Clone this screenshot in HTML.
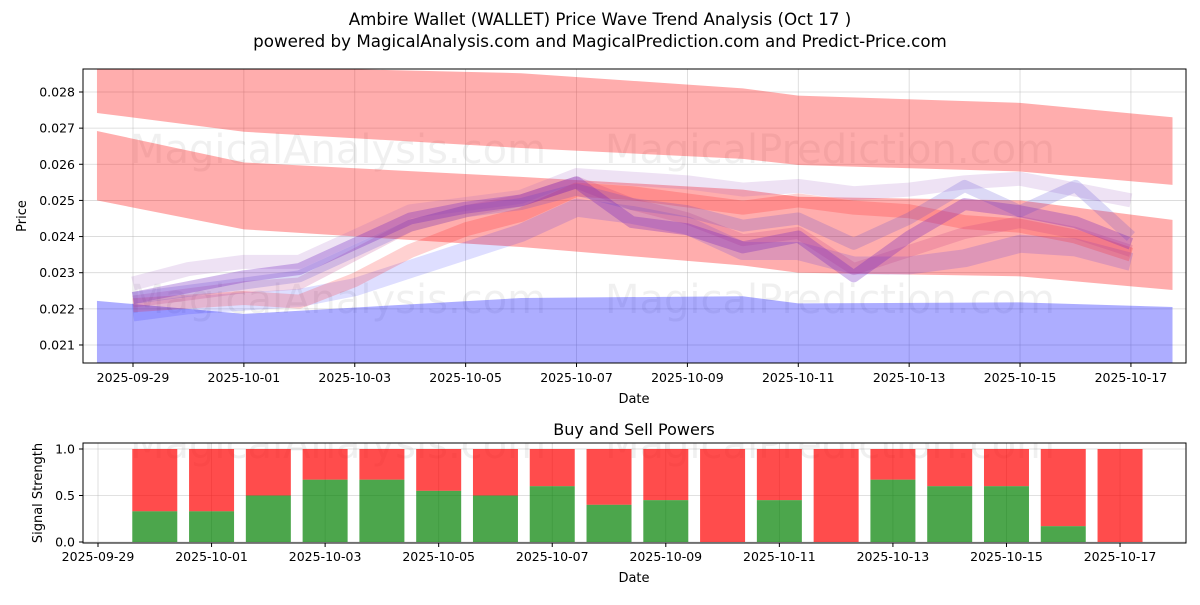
<!DOCTYPE html>
<html><head><meta charset="utf-8"><style>
body{margin:0;background:#fff;font-family:"Liberation Sans","DejaVu Sans",sans-serif;}
svg text{font-family:"DejaVu Sans","Liberation Sans",sans-serif;}
</style></head><body>
<svg id="c" width="1200" height="600" xmlns="http://www.w3.org/2000/svg">
<rect width="1200" height="600" fill="#fff"/>
<text x="600" y="25" text-anchor="middle" font-size="16.7">Ambire Wallet (WALLET) Price Wave Trend Analysis (Oct 17 )</text>
<text x="600" y="47" text-anchor="middle" font-size="16.7">powered by MagicalAnalysis.com and MagicalPrediction.com and Predict-Price.com</text>
<defs>
<clipPath id="cp1"><rect x="83" y="69" width="1103" height="294"/></clipPath>
<clipPath id="cp2"><rect x="83" y="443" width="1103" height="100"/></clipPath>
</defs>
<g id="topplot"></g>
<g id="botplot"></g>
</svg>
<script>
// ---- price chart data (day index from 2025-09-29) ----
const bandDays = [-0.65, 2, 7, 11, 12, 16, 18.75];
const redTopUpper = [0.02880, 0.02870, 0.02852, 0.02810, 0.02790, 0.02770, 0.02730];
const redTopLower = [0.02742, 0.02690, 0.02645, 0.02615, 0.02598, 0.02580, 0.02543];
const redMidUpper = [0.02692, 0.02605, 0.02565, 0.02530, 0.02510, 0.02500, 0.02446];
const redMidLower = [0.02500, 0.02420, 0.02371, 0.02320, 0.02300, 0.02290, 0.02252];
const blueUpper = [0.02222, 0.02186, 0.02230, 0.02235, 0.02215, 0.02218, 0.02205];
const blueLower = [0.02030, 0.02030, 0.02030, 0.02030, 0.02030, 0.02030, 0.02030];
const waveDays = [0,1,2,3,4,5,6,7,8,9,10,11,12,13,14,15,16,17,18];
const waveA = [0.0223,0.0226,0.0229,0.0231,0.0238,0.0245,0.0248,0.0250,0.0255,0.0244,0.0242,0.0237,0.0240,0.0229,0.0240,0.0249,0.0247,0.0244,0.0238];
const waveB = [0.0222,0.0224,0.0226,0.0227,0.0235,0.0243,0.0247,0.0250,0.0255,0.0249,0.0245,0.0239,0.0241,0.0231,0.0236,0.0241,0.0244,0.0241,0.0236];
const waveC = [0.0221,0.0222,0.0223,0.0222,0.0228,0.0236,0.0242,0.0246,0.0253,0.0252,0.0250,0.0248,0.0250,0.0248,0.0247,0.0244,0.0243,0.0240,0.0235];
const waveD = [0.0227,0.0231,0.0233,0.0233,0.0240,0.0247,0.0249,0.0251,0.0257,0.0256,0.0255,0.0253,0.0254,0.0252,0.0253,0.0255,0.0256,0.0253,0.0250];
const waveE = [0.0223,0.0225,0.0227,0.0229,0.0236,0.0243,0.0247,0.0249,0.0253,0.0249,0.0247,0.0243,0.0245,0.0238,0.0245,0.0254,0.0247,0.0254,0.0240];
const waveF = [0.0219,0.0221,0.0222,0.0223,0.0226,0.0231,0.0236,0.0241,0.0248,0.0246,0.0243,0.0236,0.0236,0.0232,0.0232,0.0234,0.0238,0.0237,0.0233];
const yTicks = [0.021,0.022,0.023,0.024,0.025,0.026,0.027,0.028];
const xTickLabels = ["2025-09-29","2025-10-01","2025-10-03","2025-10-05","2025-10-07","2025-10-09","2025-10-11","2025-10-13","2025-10-15","2025-10-17"];
const xTickDays = [0,2,4,6,8,10,12,14,16,18];
// ---- buy/sell powers ----
const barDays = [1,2,3,4,5,6,7,8,9,10,11,12,13,14,15,16,17,18];
const buyPower = [0.33,0.33,0.5,0.67,0.67,0.55,0.5,0.6,0.4,0.45,0,0.45,0,0.67,0.6,0.6,0.17,0];
const powTicks = [0,0.5,1.0];

const NS="http://www.w3.org/2000/svg";
function mk(tag,attrs,parent){const e=document.createElementNS(NS,tag);for(const k in attrs)e.setAttribute(k,attrs[k]);parent.appendChild(e);return e;}
const X=d=>133+d*55.44, Y=p=>92+(0.028-p)/0.001*36.14;
const X2=d=>98+d*56.78, Y2=v=>542-93*v;
const topG=document.getElementById('topplot'), botG=document.getElementById('botplot');

for(const t of yTicks){const l=mk('line',{x1:83,x2:1186,y1:Y(t),y2:Y(t),stroke:'#b0b0b0','stroke-width':0.8,'stroke-opacity':0.5},topG);


mk('line',{x1:79,x2:83,y1:Y(t),y2:Y(t),stroke:'#000'},topG);
const tx=mk('text',{x:75,y:Y(t)+4.5,'text-anchor':'end','font-size':12.5},topG);tx.textContent=t.toFixed(3);

}
xTickDays.forEach((d,i)=>{const l=mk('line',{x1:X(d),x2:X(d),y1:69,y2:363,stroke:'#b0b0b0','stroke-width':0.8,'stroke-opacity':0.5},topG);


mk('line',{x1:X(d),x2:X(d),y1:363,y2:367,stroke:'#000'},topG);
const tx=mk('text',{x:X(d),y:382,'text-anchor':'middle','font-size':12.5},topG);tx.textContent=xTickLabels[i];

});
[[130,163,'MagicalAnalysis.com'],[605,163,'MagicalPrediction.com'],[130,313,'MagicalAnalysis.com'],[605,313,'MagicalPrediction.com']].forEach(w=>{
const t=mk('text',{x:w[0],y:w[1],'font-size':40,fill:'#000','fill-opacity':0.06},topG);t.textContent=w[2];

});
const g=mk('g',{'clip-path':'url(#cp1)'},topG);
function band(up,lo,col,name){let d='M'+bandDays.map((x,i)=>X(x)+','+Y(up[i])).join('L');
d+='L'+bandDays.map((x,i)=>[X(x),Y(lo[i])]).reverse().map(p=>p.join(',')).join('L')+'Z';
const p=mk('path',{d:d,fill:col,'fill-opacity':0.32},g);

}
band(redTopUpper,redTopLower,'#f00','upper-red-band');
band(redMidUpper,redMidLower,'#f00','middle-red-band');
band(blueUpper,blueLower,'#00f','lower-blue-band');
const waves=[[waveF,'#00f',0.13,18],[waveD,'#a060c0',0.18,14],[waveC,'#f00',0.18,14],[waveB,'#c03080',0.2,12],[waveE,'#5040d0',0.2,12],[waveA,'#7020c0',0.3,12]];
waves.forEach(w=>{const d='M'+waveDays.map((x,i)=>X(x)+','+Y(w[0][i])).join('L');
const p=mk('path',{d:d,fill:'none',stroke:w[1],'stroke-opacity':w[2],'stroke-width':w[3],'stroke-linejoin':'round'},g);

});
mk('rect',{x:83,y:69,width:1103,height:294,fill:'none',stroke:'#000','stroke-width':1},topG);
let t=mk('text',{x:634,y:403,'text-anchor':'middle','font-size':13},topG);t.textContent='Date';


t=mk('text',{x:26,y:216,'text-anchor':'middle','font-size':13,transform:'rotate(-90 26 216)'},topG);t.textContent='Price';



t=mk('text',{x:634,y:435,'text-anchor':'middle','font-size':16},botG);t.textContent='Buy and Sell Powers';


for(const v of powTicks){const l=mk('line',{x1:83,x2:1186,y1:Y2(v),y2:Y2(v),stroke:'#b0b0b0','stroke-width':0.8,'stroke-opacity':0.5},botG);


mk('line',{x1:79,x2:83,y1:Y2(v),y2:Y2(v),stroke:'#000'},botG);
const tx=mk('text',{x:75,y:Y2(v)+4.5,'text-anchor':'end','font-size':12.5},botG);tx.textContent=v.toFixed(1);

}
xTickDays.forEach((d,i)=>{const l=mk('line',{x1:X2(d),x2:X2(d),y1:443,y2:543,stroke:'#b0b0b0','stroke-width':0.8,'stroke-opacity':0.5},botG);


mk('line',{x1:X2(d),x2:X2(d),y1:543,y2:547,stroke:'#000'},botG);
const tx=mk('text',{x:X2(d),y:561,'text-anchor':'middle','font-size':12.5},botG);tx.textContent=xTickLabels[i];

});
[[130,458,'MagicalAnalysis.com'],[605,458,'MagicalPrediction.com']].forEach(w=>{
const tt=mk('text',{x:w[0],y:w[1],'font-size':40,fill:'#000','fill-opacity':0.06,'clip-path':'url(#cp2)'},botG);tt.textContent=w[2];

});
barDays.forEach((d,i)=>{const x=X2(d)-22.5,b=buyPower[i];
const r=mk('rect',{x:x,y:Y2(1),width:45,height:Y2(b)-Y2(1),fill:'#f00','fill-opacity':0.7},botG);


const gr=mk('rect',{x:x,y:Y2(b),width:45,height:Y2(0)-Y2(b),fill:'#008000','fill-opacity':0.7},botG);

});
mk('rect',{x:83,y:443,width:1103,height:100,fill:'none',stroke:'#000','stroke-width':1},botG);
t=mk('text',{x:634,y:582,'text-anchor':'middle','font-size':13},botG);t.textContent='Date';


t=mk('text',{x:42,y:493,'text-anchor':'middle','font-size':13,transform:'rotate(-90 42 493)'},botG);t.textContent='Signal Strength';


</script>
</body></html>
